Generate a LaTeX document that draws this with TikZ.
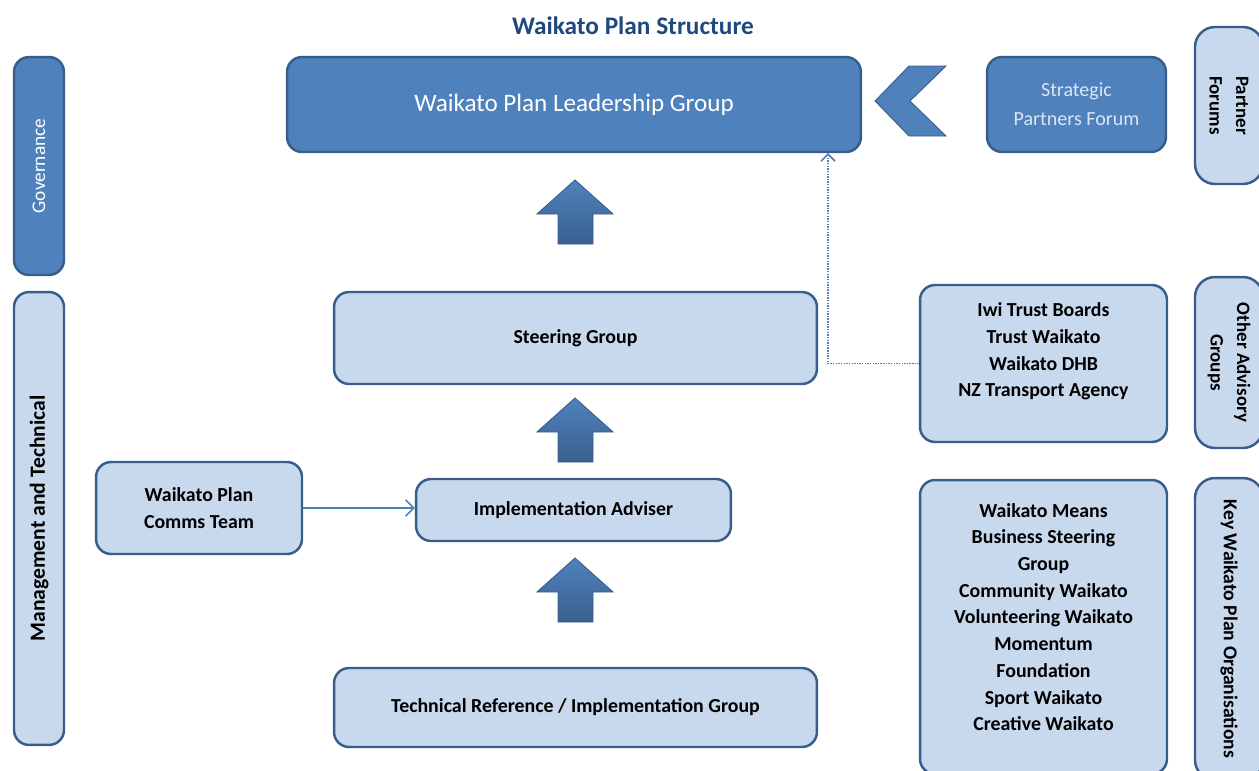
\documentclass[tikz,border=0pt]{standalone}
\usepackage{fontspec}
\setmainfont{Carlito}
\usetikzlibrary{positioning, arrows.meta}
\definecolor{darkfill}{HTML}{4F81BD}
\definecolor{edgeblue}{HTML}{385D8A}
\definecolor{lightfill}{HTML}{C8D9EE}
\definecolor{titleblue}{HTML}{1F497D}
\definecolor{paletext}{HTML}{DCE6F2}

\begin{document}
\begin{tikzpicture}[
    x=0.02cm, y=-0.02cm,
    darkbox/.style={rectangle, rounded corners=0.3cm, draw=edgeblue, line width=1.4pt, fill=darkfill, text=white, align=center},
    lightbox/.style={rectangle, rounded corners=0.3cm, draw=edgeblue, line width=1.4pt, fill=lightfill, text=black, align=center, font=\bfseries\fontsize{11.3}{15.3}\selectfont},
    listtext/.style={align=center, font=\bfseries\fontsize{11.3}{15.2}\selectfont},
    sidelabel/.style={lightbox, rounded corners=0.4cm, font=\bfseries\fontsize{10.8}{15}\selectfont},
    blockarrow/.style={top color=darkfill, bottom color=edgeblue!90!darkfill, draw=edgeblue, line width=0.5pt},
    link/.style={draw=darkfill, line width=0.9pt, -{Straight Barb[length=1.6mm, width=3.2mm]}},
    hint/.style={draw=darkfill, line width=1pt, dash pattern=on 0.8pt off 0.7pt, -{Straight Barb[length=1.4mm, width=2.8mm]}}
]
    \clip (0,0) rectangle (1259,771);

    % Title
    \node[font=\bfseries\fontsize{14.4}{17}\selectfont, text=titleblue] (title) at (633,26) {Waikato Plan Structure};

    % Left side labels
    \node[darkbox, rotate=90, minimum width=4.36cm, minimum height=1cm, font=\fontsize{11}{13}\selectfont] (gov) at (39,166) {Governance};
    \node[lightbox, rotate=90, minimum width=9.06cm, minimum height=1cm, font=\bfseries\fontsize{12.3}{14}\selectfont] (mgmt) at (39,518.5) {Management and Technical};

    % Governance row
    \node[darkbox, minimum width=11.48cm, minimum height=1.9cm, font=\fontsize{14.3}{17}\selectfont] (lead) at (574,104.5) {Waikato Plan Leadership Group};
    \node[darkbox, minimum width=3.58cm, minimum height=1.9cm, text=paletext, font=\fontsize{11.4}{16.4}\selectfont] (spf) at (1076.5,104.5) {Strategic\\Partners Forum};
    \fill[darkfill, draw=edgeblue, line width=0.5pt] (875,101) -- (909,66) -- (946,66) -- (910,101) -- (946,136) -- (909,136) -- cycle;

    % Management and technical
    \node[lightbox, minimum width=9.66cm, minimum height=1.84cm] (steer) at (575.5,338) {Steering Group};
    \node[lightbox, minimum width=6.3cm, minimum height=1.24cm] (impl) at (573.5,510) {Implementation Adviser};
    \node[lightbox, minimum width=4.12cm, minimum height=1.84cm] (comms) at (199,508) {Waikato Plan\\Comms Team};
    \node[lightbox, minimum width=9.66cm, minimum height=1.58cm] (tech) at (575.5,707.5) {Technical Reference / Implementation Group};

    % Up arrows
    \foreach \t in {180,398,558}
        \draw[blockarrow] (537,\t+34) -- (575,\t) -- (613,\t+34) -- (593,\t+34) -- (593,\t+64) -- (558,\t+64) -- (558,\t+34) -- cycle;

    % Advisory and key organisations
    \node[lightbox, minimum width=4.94cm, minimum height=3.14cm] (iwi) at (1043.5,363.5) {};
    \node[listtext, yshift=0.24cm] (iwilist) at (iwi) {Iwi Trust Boards\\Trust Waikato\\Waikato DHB\\NZ Transport Agency};
    \node[lightbox, minimum width=4.94cm, minimum height=5.88cm] (keyorg) at (1043.5,627) {};
    \node[listtext, yshift=0.2cm] (keylist) at (keyorg) {Waikato Means\\Business Steering\\Group\\Community Waikato\\Volunteering Waikato\\Momentum\\Foundation\\Sport Waikato\\Creative Waikato};

    % Right side labels
    \node[sidelabel, rotate=-90, minimum width=3.14cm, minimum height=1.36cm] (partner) at (1229,105.5) {Partner\\Forums};
    \node[sidelabel, rotate=-90, minimum width=3.42cm, minimum height=1.36cm] (other) at (1229,362.5) {Other Advisory\\Groups};
    \node[sidelabel, rotate=-90, minimum width=6.04cm, minimum height=1.36cm, font=\bfseries\fontsize{11.2}{15}\selectfont] (key) at (1229,629) {Key Waikato Plan Organisations};

    % Connectors
    \coordinate (dt) at (828,153);
    \draw[link] (comms.east) -- (comms.east -| impl.west);
    \draw[hint] (iwi.west) -| (dt);

\end{tikzpicture}
\end{document}
